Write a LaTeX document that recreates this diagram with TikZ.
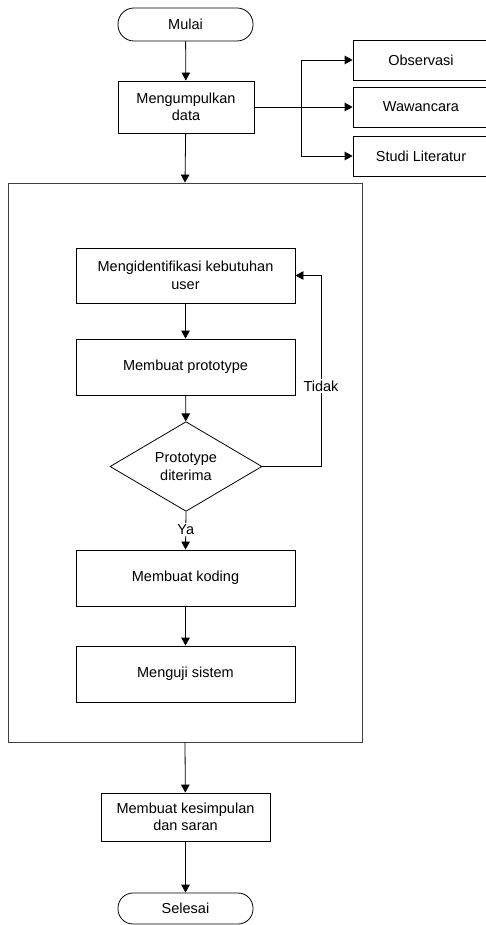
\documentclass[tikz,border=0pt]{standalone}
\usepackage{fontspec}
\setmainfont{Liberation Sans}
\usetikzlibrary{shapes.geometric,arrows.meta}
\begin{document}
\begin{tikzpicture}[x=1pt,y=-1pt,
  every node/.style={font=\fontsize{14.5}{17.5}\selectfont},
  box/.style={draw, line width=0.8pt, rectangle, align=center, inner sep=0pt},
  term/.style={box, rounded corners=16pt},
  arr/.style={line width=0.8pt, -{Triangle[length=8pt,width=8.5pt]}},
  ln/.style={line width=0.8pt},
  lbl/.style={fill=white, inner sep=1.5pt}]
\clip (0,0) rectangle (486,925);
\fill[white] (0,0) rectangle (486,925);
% outer frame
\node[box, draw=black!75, minimum width=354pt, minimum height=559pt] (frame) at (185,462.5) {};
% nodes
\node[term, minimum width=135pt, minimum height=33pt] (mulai) at (185.5,24.5) {Mulai};
\node[box, minimum width=136pt, minimum height=52pt] (kumpul) at (186,107) {Mengumpulkan\\data};
\node[box, minimum width=136pt, minimum height=40pt] (obs) at (421,60) {Observasi};
\node[box, minimum width=136pt, minimum height=40pt] (wawan) at (421,107) {Wawancara};
\node[box, minimum width=136pt, minimum height=40pt] (studi) at (421,156) {Studi Literatur};
\coordinate (trunk) at (301,107);
\node[box, minimum width=219pt, minimum height=55pt] (ident) at (185.5,275.5) {Mengidentifikasi kebutuhan\\user};
\node[box, minimum width=219pt, minimum height=56pt] (proto) at (185.5,367) {Membuat prototype};
\node[draw, line width=0.8pt, diamond, align=center, inner sep=0pt, minimum width=152pt, minimum height=63pt] (dia) at (186,466.5) {Prototype\\diterima};
\node[box, minimum width=219pt, minimum height=56pt] (koding) at (185.5,578) {Membuat koding};
\node[box, minimum width=219pt, minimum height=56pt] (uji) at (185.5,674) {Menguji sistem};
\node[box, minimum width=169pt, minimum height=48pt] (kesim) at (185.5,817) {Membuat kesimpulan\\dan saran};
\node[term, rounded corners=15pt, minimum width=135pt, minimum height=31pt] (selesai) at (185.5,908.5) {Selesai};
% connectors
\draw[arr] (mulai) -- (kumpul);
\draw[ln] (kumpul.east) -- (trunk);
\draw[arr] (trunk) -- (wawan.west);
\draw[arr] (trunk) |- (obs.west);
\draw[arr] (trunk) |- (studi.west);
\draw[arr] (kumpul) -- (frame.north);
\draw[arr] (ident) -- (proto);
\draw[arr] (proto) -- (dia);
\coordinate (back) at (321,466.5);
\draw[arr] (dia.east) -- (back) |- (ident.east) node[lbl, pos=0.21] (tidak) {Tidak};
\draw[arr] (dia.south) -- (koding.north) node[lbl, pos=0.48] (ya) {Ya};
\draw[arr] (koding) -- (uji);
\draw[arr] (frame.south) -- (kesim);
\draw[arr] (kesim) -- (selesai);
\end{tikzpicture}
\end{document}
